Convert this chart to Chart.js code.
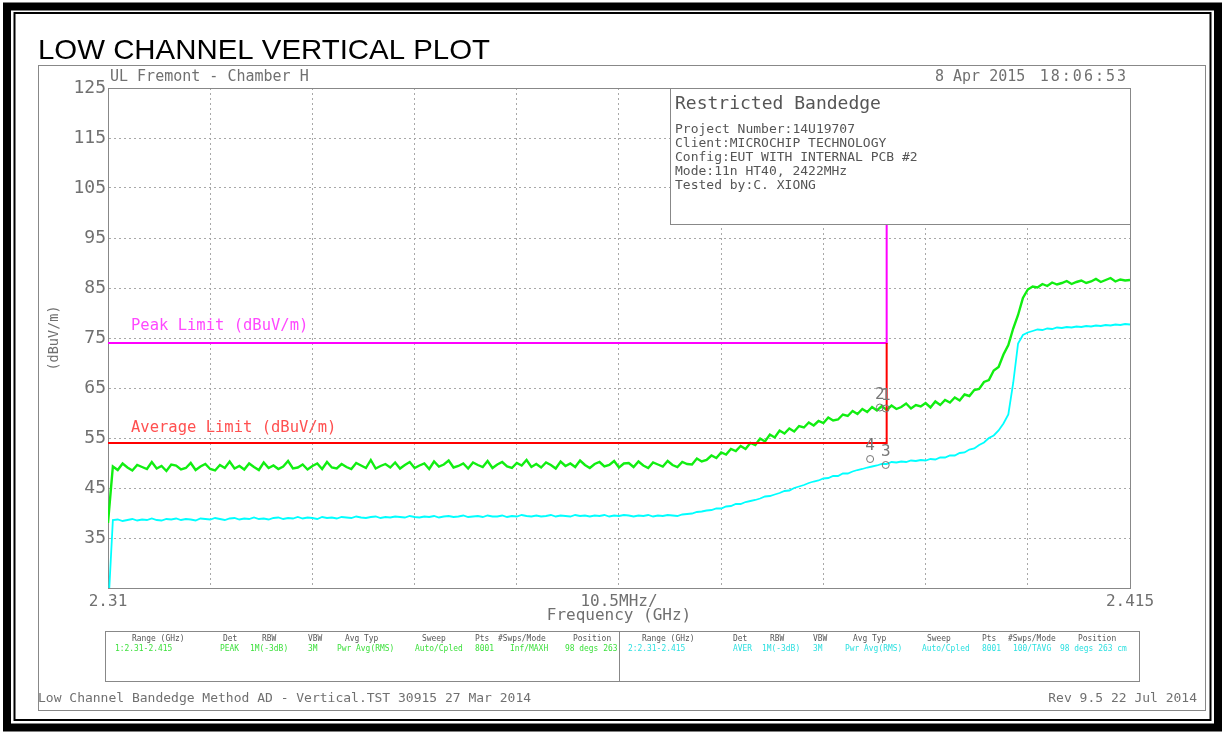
<!DOCTYPE html>
<html>
<head>
<meta charset="utf-8">
<title>Low Channel Vertical Plot</title>
<script src="https://cdn.jsdelivr.net/npm/chart.js@4.4.1/dist/chart.umd.min.js"></script>
<style>
  html, body { margin: 0; padding: 0; background: #fff; overflow: hidden; }
  canvas { display: block; }
</style>
</head>
<body>
<canvas id="plot" width="1225" height="732"></canvas>
<script>
// Sweep 2.31 - 2.415 GHz, one reading every 0.5 MHz
let sweepStart = 2.31;
let sweepStep = 0.0005;

// Trace 1 - peak detector, dBuV/m
let peakTrace = [
  38.0, 49.3, 48.6, 49.9, 49.1, 48.5, 49.6, 49.2, 48.8, 50.2,
  48.9, 49.4, 48.4, 49.7, 49.5, 48.7, 49.0, 50.0, 48.6, 49.3,
  49.8, 48.8, 48.5, 49.6, 49.0, 50.3, 48.9, 49.4, 48.7, 49.9,
  49.2, 48.6, 50.1, 49.0, 49.5, 48.8, 49.3, 50.4, 48.9, 49.1,
  49.7, 48.7, 49.4, 49.9, 48.8, 50.2, 49.1, 48.9, 49.8, 49.2,
  48.8, 50.0, 49.5, 49.0, 50.6, 48.9, 49.4, 49.8, 49.1, 50.1,
  48.9, 49.6, 50.2, 49.0, 49.5, 49.9, 48.8, 50.3, 49.3, 49.7,
  50.5, 49.1, 49.4, 49.9, 48.9, 50.1, 49.6, 49.2, 50.4, 49.0,
  49.7, 50.2, 49.3, 49.0, 50.0, 49.5, 50.6, 49.2, 49.8, 49.1,
  50.1, 49.6, 48.9, 50.3, 49.4, 49.9, 49.2, 50.5, 49.6, 49.0,
  49.8, 50.2, 49.3, 49.6, 50.4, 49.1, 49.9, 50.0, 49.2, 50.3,
  49.5, 49.0, 50.1, 49.7, 49.3, 50.4, 49.6, 49.2, 50.2, 49.8,
  49.7, 50.9, 50.3, 50.6, 51.5, 51.0, 52.1, 51.7, 52.8, 52.4,
  53.4, 52.8, 54.0, 53.6, 54.9, 54.3, 55.7, 55.1, 56.5, 55.9,
  56.9, 56.3, 57.4, 57.1, 58.1, 57.5, 58.4, 58.0, 59.1, 58.5,
  58.7, 59.7, 59.4, 60.4, 59.8, 60.8, 60.2, 61.2, 60.5, 61.4,
  60.6, 61.5, 60.8, 61.2, 61.9, 60.9, 61.6, 61.3, 62.0, 61.1,
  62.3, 61.6, 62.6, 62.1, 63.1, 62.5, 63.7, 63.4, 64.6, 64.8,
  66.2, 66.6, 68.5, 69.2, 71.7, 73.6, 76.9, 79.6, 83.0, 84.7,
  85.3, 85.1, 85.8, 85.4, 86.1, 85.7, 86.0, 86.4, 85.8, 86.2,
  86.5, 86.0, 86.3, 86.8, 86.2, 86.6, 87.0, 86.3, 86.7, 86.5,
  86.6
];

// Trace 2 - average detector, dBuV/m
let avgTrace = [
  20.0, 38.6, 38.7, 38.4, 38.6, 38.8, 38.5, 38.7, 38.6, 38.9,
  38.6, 38.5, 38.8, 38.7, 38.9, 38.6, 38.8, 38.7, 38.5, 38.9,
  38.8, 38.7, 39.0, 38.8, 38.6, 38.9, 39.0, 38.7, 38.9, 38.8,
  39.1, 38.8, 38.9, 38.7, 39.0, 39.1, 38.8, 39.0, 38.9, 39.2,
  38.9, 39.1, 39.0, 38.8, 39.2, 39.0, 39.1, 38.9, 39.2, 39.1,
  39.0, 39.3, 39.1, 39.0, 39.2, 39.3, 39.0, 39.2, 39.1, 39.3,
  39.2, 39.1, 39.4, 39.2, 39.1, 39.3, 39.2, 39.4, 39.1, 39.3,
  39.4, 39.2, 39.3, 39.5, 39.2, 39.3, 39.4, 39.2, 39.5, 39.3,
  39.3, 39.5, 39.2, 39.4, 39.3, 39.6, 39.4, 39.3, 39.5, 39.3,
  39.4, 39.6, 39.3, 39.5, 39.4, 39.3, 39.6, 39.4, 39.5, 39.3,
  39.5, 39.4, 39.6, 39.3, 39.5, 39.4, 39.6, 39.5, 39.3, 39.5,
  39.4, 39.6, 39.3, 39.5, 39.4, 39.6, 39.5, 39.4, 39.7, 39.8,
  39.9, 40.2, 40.3, 40.5, 40.6, 40.9, 40.9, 41.3, 41.4, 41.8,
  41.8, 42.2, 42.4, 42.6, 42.9, 43.3, 43.4, 43.7, 44.0, 44.4,
  44.5, 45.0, 45.3, 45.6, 46.0, 46.3, 46.5, 46.9, 47.0, 47.4,
  47.4, 47.9, 47.9, 48.3, 48.6, 48.8, 49.1, 49.3, 49.5, 49.8,
  49.8, 50.2, 50.1, 50.3, 50.2, 50.5, 50.4, 50.6, 50.5, 50.8,
  50.7, 51.1, 51.1, 51.5, 51.5, 52.0, 52.1, 52.7, 52.9, 53.6,
  54.1, 55.0, 55.5, 56.5, 57.9, 59.7, 66.0, 73.9, 75.6, 76.1,
  76.4, 76.7, 76.6, 76.9, 76.8, 77.1, 77.0, 77.2, 77.1, 77.3,
  77.2, 77.4, 77.3, 77.5, 77.4, 77.6, 77.5, 77.7, 77.6, 77.8,
  77.7
];

// Limit lines (restricted band ends at 2.39 GHz)
let peakLimitFreq = [2.31, 2.39, 2.39];
let peakLimitLevel = [74, 74, 125];
let avgLimitFreq = [2.31, 2.39, 2.39];
let avgLimitLevel = [54, 54, 74];

// Markers
let markerNames = ['1', '2', '3', '4'];
let markerFreq = [2.3899, 2.3893, 2.3899, 2.3883];
let markerLevel = [60.9, 61.1, 49.6, 50.8];

// Axis ticks
let xTickValues = [2.31, 2.3205, 2.331, 2.3415, 2.352, 2.3625, 2.373, 2.3835, 2.394, 2.4045, 2.415];
let xTickLabels = ['2.31', '', '', '', '', '10.5MHz/', '', '', '', '', '2.415'];
let yTickValues = [25, 35, 45, 55, 65, 75, 85, 95, 105, 115, 125];
let yTickLabels = ['', '35', '45', '55', '65', '75', '85', '95', '105', '115', '125'];

// Texts of the sheet
let infoTitle = 'Restricted Bandedge';
let infoLines = [
  'Project Number:14U19707',
  'Client:MICROCHIP TECHNOLOGY',
  'Config:EUT WITH INTERNAL PCB #2',
  'Mode:11n HT40, 2422MHz',
  'Tested by:C. XIONG'
];
let tableHeaders = ['Range (GHz)', 'Det', 'RBW', 'VBW', 'Avg Typ', 'Sweep', 'Pts', '#Swps/Mode', 'Position'];
let trace1Settings = ['1:2.31-2.415', 'PEAK', '1M(-3dB)', '3M', 'Pwr Avg(RMS)', 'Auto/Cpled', '8001', 'Inf/MAXH', '98 degs 263 cm'];
let trace2Settings = ['2:2.31-2.415', 'AVER', '1M(-3dB)', '3M', 'Pwr Avg(RMS)', 'Auto/Cpled', '8001', '100/TAVG', '98 degs 263 cm'];

const MONO = '"DejaVu Sans Mono", monospace';

// draw a line of text, optionally squeezed horizontally or letter-spaced
function txt(ctx, str, x, y, size, color, align, sx, spacing) {
  ctx.save();
  ctx.font = size + 'px ' + MONO;
  ctx.fillStyle = color;
  ctx.textAlign = align || 'left';
  ctx.textBaseline = 'middle';
  if (spacing) ctx.letterSpacing = spacing + 'px';
  ctx.translate(x, y);
  ctx.scale(sx || 1, 1);
  ctx.fillText(str, 0, 0);
  ctx.restore();
}

// settings table under the plot, one half per trace
function drawTableHalf(ctx, left, right, headX, valX, values, color) {
  ctx.save();
  ctx.beginPath();
  ctx.rect(left, 632, right - left, 48);
  ctx.clip();
  tableHeaders.forEach((h, i) => txt(ctx, h, headX[i], 638.5, 9, '#555', 'left', 0.88));
  values.forEach((v, i) => txt(ctx, v, valX[i], 648.5, 9, color, 'left', 0.88));
  ctx.restore();
}

const sheetPlugin = {
  id: 'sheet',
  beforeDraw(chart) {
    let ctx = chart.ctx;
    ctx.save();
    ctx.fillStyle = '#fff';
    ctx.fillRect(0, 0, chart.width, chart.height);

    // heavy black frame + thin inner frame
    ctx.strokeStyle = '#000';
    ctx.lineWidth = 8;
    ctx.strokeRect(7, 6.5, 1211, 721);
    ctx.lineWidth = 2;
    ctx.strokeRect(14.5, 13, 1196, 707);

    // gray sheet border
    ctx.strokeStyle = '#888';
    ctx.lineWidth = 1;
    ctx.strokeRect(38.5, 65.5, 1167, 645);

    // title, stretched to the width of the original
    ctx.font = '28px "Liberation Sans", Arial, sans-serif';
    ctx.fillStyle = '#000';
    ctx.textBaseline = 'alphabetic';
    let title = 'LOW CHANNEL VERTICAL PLOT';
    let tw = ctx.measureText(title).width;
    ctx.save();
    ctx.translate(38, 59);
    ctx.scale(452 / tw, 1);
    ctx.fillText(title, 0, 0);
    ctx.restore();

    txt(ctx, 'UL Fremont - Chamber H', 110, 77, 15, '#707070');
    txt(ctx, '8 Apr 2015', 935, 77, 15, '#707070');
    txt(ctx, '18:06:53', 1128, 77, 15, '#707070', 'right', 1, 2);

    // settings table
    ctx.strokeStyle = '#888';
    ctx.strokeRect(105.5, 631.5, 1034, 50);
    ctx.beginPath();
    ctx.moveTo(619.5, 631.5);
    ctx.lineTo(619.5, 681.5);
    ctx.stroke();
    drawTableHalf(ctx, 106, 619, [132, 223, 262, 308, 345, 422, 475, 498, 573],
      [115, 220, 250, 308, 337, 415, 475, 510, 565], trace1Settings, '#3ee03e');
    drawTableHalf(ctx, 620, 1139, [642, 733, 770, 813, 853, 927, 982, 1008, 1078],
      [628, 733, 762, 813, 845, 922, 982, 1013, 1060], trace2Settings, '#2ee0e0');

    // footer
    txt(ctx, 'Low Channel Bandedge Method AD - Vertical.TST 30915 27 Mar 2014', 38, 699, 13, '#707070');
    txt(ctx, 'Rev 9.5 22 Jul 2014', 1197, 699, 13, '#707070', 'right');
    ctx.restore();
  },
  beforeDatasetsDraw(chart) {
    let ctx = chart.ctx;
    let a = chart.chartArea;
    ctx.save();
    ctx.strokeStyle = '#888';
    ctx.lineWidth = 1;
    ctx.strokeRect(Math.round(a.left) + 0.5, Math.round(a.top) + 0.5,
      Math.round(a.right - a.left), Math.round(a.bottom - a.top));
    ctx.restore();
  },
  afterDatasetsDraw(chart) {
    let ctx = chart.ctx;
    let a = chart.chartArea;
    let ys = chart.scales.y;

    // limit labels
    txt(ctx, 'Peak Limit (dBuV/m)', a.left + 23, ys.getPixelForValue(peakLimitLevel[0]) - 17, 15.5, '#ff48ff');
    txt(ctx, 'Average Limit (dBuV/m)', a.left + 23, ys.getPixelForValue(avgLimitLevel[0]) - 15, 15.5, '#ff5050');

    // info box, covers the top of the band edge line
    ctx.save();
    ctx.fillStyle = '#fff';
    ctx.fillRect(670, a.top, a.right - 670, 224 - a.top);
    ctx.strokeStyle = '#888';
    ctx.lineWidth = 1;
    ctx.strokeRect(670.5, Math.round(a.top) + 0.5, a.right - 670, 224 - Math.round(a.top));
    ctx.restore();
    txt(ctx, infoTitle, 675, 104, 18, '#555');
    infoLines.forEach((l, i) => txt(ctx, l, 675, 129.5 + i * 14, 13, '#555'));

    // marker numbers above their points
    let meta = chart.getDatasetMeta(0);
    meta.data.forEach((p, i) => txt(ctx, markerNames[i], p.x, p.y - 13, 16, '#777', 'center'));
  }
};

window.onload = () => {
  let ctx = document.getElementById('plot').getContext('2d');

  let freqs = peakTrace.map((v, i) => +(sweepStart + i * sweepStep).toFixed(4));
  let toPoints = (xs, ys) => xs.map((x, i) => ({ x: x, y: ys[i] }));

  new Chart(ctx, {
    type: 'line',
    data: {
      datasets: [
        {
          label: 'Markers',
          data: toPoints(markerFreq, markerLevel),
          showLine: false,
          pointStyle: 'circle',
          pointRadius: 3.5,
          pointBorderWidth: 1,
          pointBorderColor: '#777',
          pointBackgroundColor: 'rgba(0,0,0,0)'
        },
        {
          label: 'Average Limit (dBuV/m)',
          data: toPoints(avgLimitFreq, avgLimitLevel),
          borderColor: '#ff0000',
          borderWidth: 2,
          pointRadius: 0
        },
        {
          label: 'Peak Limit (dBuV/m)',
          data: toPoints(peakLimitFreq, peakLimitLevel),
          borderColor: '#ff00ff',
          borderWidth: 2,
          pointRadius: 0
        },
        {
          label: 'Trace 1 PEAK',
          data: toPoints(freqs, peakTrace),
          borderColor: '#11ee11',
          borderWidth: 2.4,
          pointRadius: 0
        },
        {
          label: 'Trace 2 AVER',
          data: toPoints(freqs, avgTrace),
          borderColor: '#00ffff',
          borderWidth: 1.8,
          pointRadius: 0
        }
      ]
    },
    options: {
      responsive: false,
      animation: false,
      devicePixelRatio: 1,
      events: [],
      layout: { autoPadding: false, padding: { left: 38, top: 88, right: 95, bottom: 0 } },
      elements: { line: { tension: 0 } },
      plugins: { legend: { display: false }, tooltip: { enabled: false } },
      scales: {
        x: {
          type: 'linear',
          min: 2.31,
          max: 2.415,
          afterBuildTicks: (s) => { s.ticks = xTickValues.map(v => ({ value: v })); },
          afterFit: (s) => { s.height = 144; s.paddingLeft = 0; s.paddingRight = 0; },
          ticks: {
            autoSkip: false,
            maxRotation: 0,
            padding: 4,
            color: '#707070',
            font: { family: MONO, size: 16 },
            callback: (v, i) => xTickLabels[i]
          },
          grid: { color: '#a8a8a8', drawTicks: false },
          border: { color: '#888', dash: [2, 3] },
          title: {
            display: true,
            text: 'Frequency (GHz)',
            color: '#707070',
            font: { family: MONO, size: 16 },
            padding: { top: 0, bottom: 107 }
          }
        },
        y: {
          min: 25,
          max: 125,
          afterBuildTicks: (s) => { s.ticks = yTickValues.map(v => ({ value: v })); },
          afterFit: (s) => { s.width = 70; s.paddingTop = 0; s.paddingBottom = 0; },
          ticks: {
            padding: 2,
            color: '#707070',
            font: { family: MONO, size: 18 },
            callback: (v, i) => yTickLabels[i]
          },
          grid: { color: '#a8a8a8', drawTicks: false },
          border: { color: '#888', dash: [2, 3] },
          title: {
            display: true,
            text: '(dBuV/m)',
            color: '#707070',
            font: { family: MONO, size: 13.5 },
            padding: { top: 8, bottom: 0 }
          }
        }
      }
    },
    plugins: [sheetPlugin]
  });
};
</script>
</body>
</html>
